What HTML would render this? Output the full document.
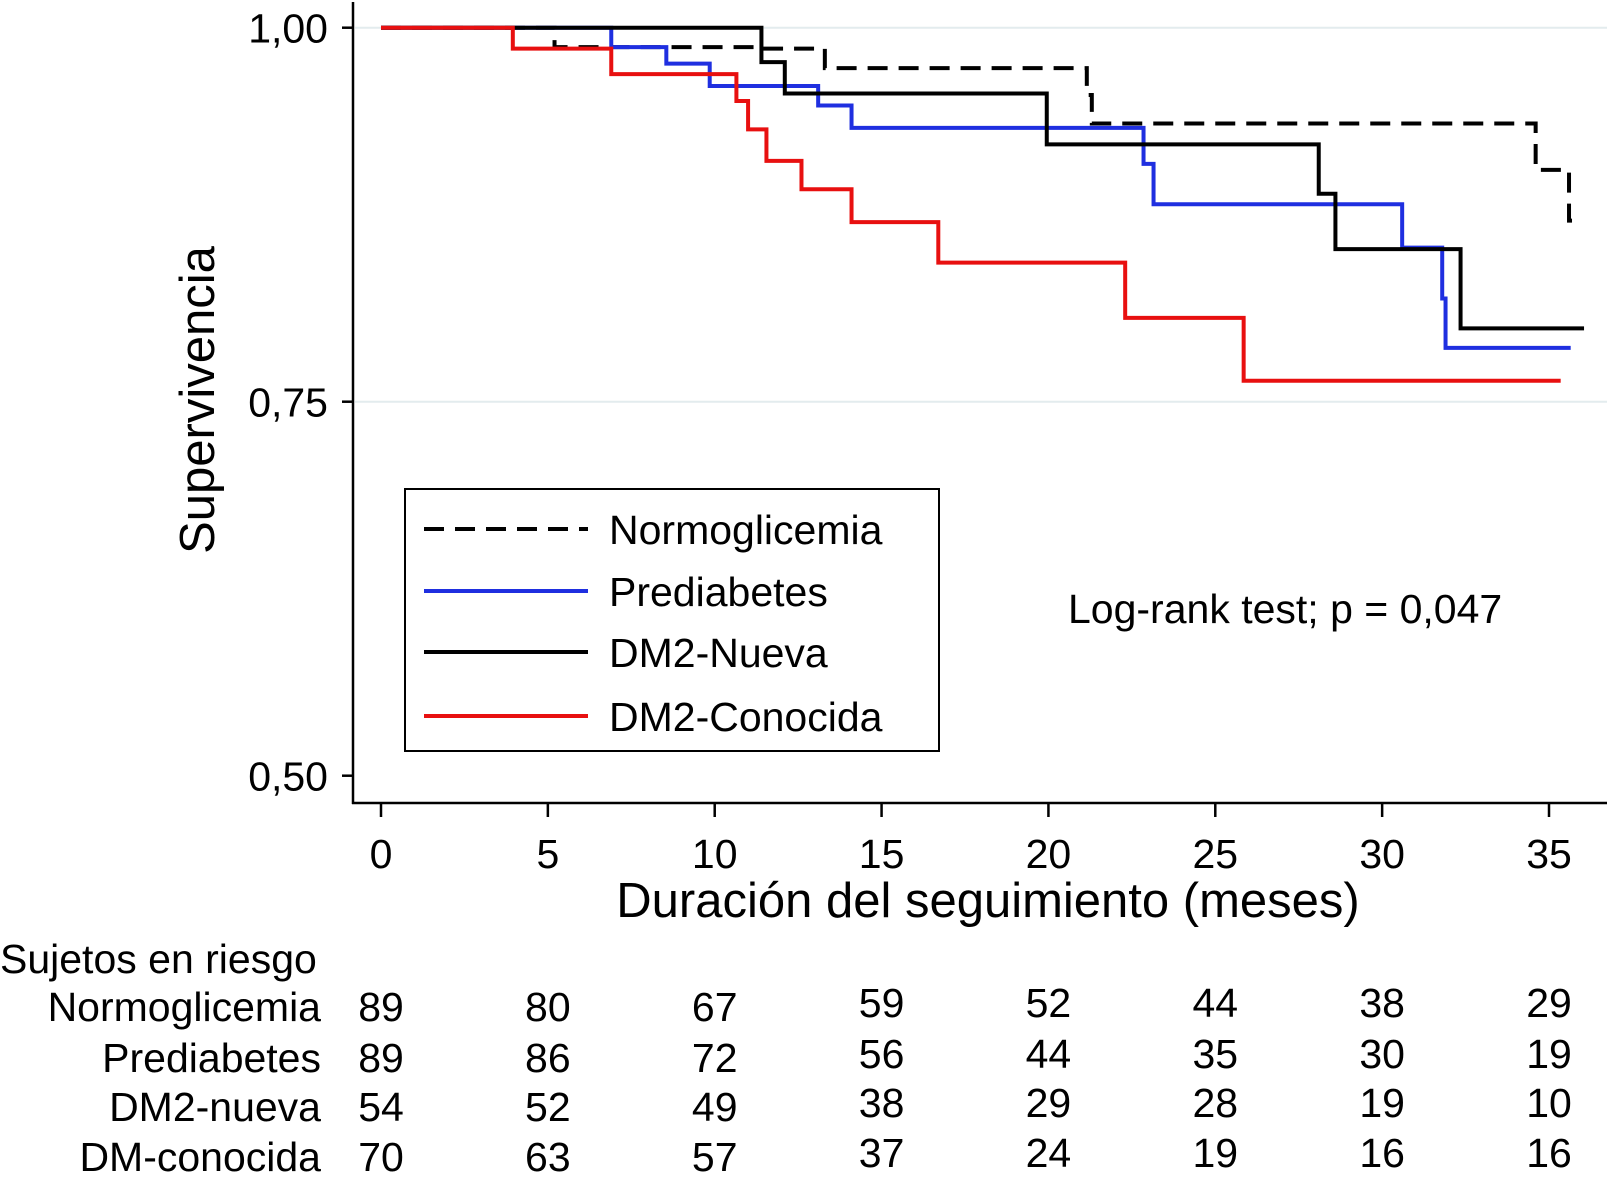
<!DOCTYPE html>
<html><head><meta charset="utf-8"><style>
html,body{margin:0;padding:0;background:#fff;}
svg{display:block;font-family:"Liberation Sans",Arial,sans-serif;}
</style></head><body>
<svg id="chart" width="1610" height="1190" viewBox="0 0 1610 1190" xmlns="http://www.w3.org/2000/svg">
<g id="grid"></g><g id="axes"></g><g id="series"></g><g id="legend"></g><g id="risk"></g>
</svg>
<script>
const xTicks = [0,5,10,15,20,25,30,35];
const yTicks = [1.00,0.75,0.50];
const yTickLabels = ["1,00","0,75","0,50"];
const seriesNames = ["Normoglicemia","Prediabetes","DM2-Nueva","DM2-Conocida"];
const seriesColors = ["#000","#1f2fe0","#000","#e81010"];
const normoT = [0,5.2,11.4,13.3,21.15,21.3,34.6,35.6,35.95];
const normoS = [1.0,0.987,0.986,0.973,0.955,0.936,0.905,0.871,0.871];
const prediT = [0,6.9,8.55,9.85,13.1,14.1,22.85,23.15,30.6,31.8,31.9,35.65];
const prediS = [1.0,0.987,0.976,0.961,0.948,0.933,0.909,0.882,0.853,0.819,0.786,0.786];
const nuevaT = [0,11.4,12.1,19.95,28.1,28.6,32.35,36.05];
const nuevaS = [1.0,0.977,0.956,0.922,0.889,0.852,0.799,0.799];
const conoT = [0,3.95,6.9,10.65,11.0,11.55,12.6,14.1,16.7,22.3,25.85,35.35];
const conoS = [1.0,0.986,0.969,0.951,0.932,0.911,0.892,0.870,0.843,0.806,0.764,0.764];
const riskRows = ["Normoglicemia","Prediabetes","DM2-nueva","DM-conocida"];
const riskNormo = [89,80,67,59,52,44,38,29];
const riskPredi = [89,86,72,56,44,35,30,19];
const riskNueva = [54,52,49,38,29,28,19,10];
const riskCono = [70,63,57,37,24,19,16,16];

const NS="http://www.w3.org/2000/svg";
const X0=381, PXM=(1549-381)/35;
const xs=t=>X0+t*PXM;
const ys=s=>27.7+(1-s)*(374/0.25);
function el(tag,attrs,parent,text){const e=document.createElementNS(NS,tag);for(const k in attrs)e.setAttribute(k,attrs[k]);if(text!==undefined)e.textContent=text;parent.appendChild(e);return e;}
const grid=document.getElementById('grid'),axes=document.getElementById('axes'),ser=document.getElementById('series'),leg=document.getElementById('legend'),risk=document.getElementById('risk');

yTicks.forEach((v,i)=>{
  if(v>0.5){const g=el('line',{x1:355,x2:1607,y1:ys(v),y2:ys(v),stroke:'#e3ecee','stroke-width':2},grid);
  
  }
  const t=el('line',{x1:342,x2:354,y1:ys(v),y2:ys(v),stroke:'#000','stroke-width':2.5},axes);
  
  
  const l=el('text',{x:328,y:ys(v)+15,'text-anchor':'end','font-size':41},axes,yTickLabels[i]);
  
  
});
const ya=el('line',{x1:353,x2:353,y1:2,y2:804,stroke:'#000','stroke-width':2.5},axes);


const xa=el('line',{x1:352,x2:1607,y1:803,y2:803,stroke:'#000','stroke-width':2.5},axes);


xTicks.forEach(v=>{
  const t=el('line',{x1:xs(v),x2:xs(v),y1:803,y2:817,stroke:'#000','stroke-width':2.5},axes);
  
  
  const l=el('text',{x:xs(v),y:868,'text-anchor':'middle','font-size':41},axes,String(v));
  
  
});
const yt=el('text',{x:0,y:0,'text-anchor':'middle','font-size':49,transform:'translate(214,400) rotate(-90)'},axes,'Supervivencia');


const xt=el('text',{x:988,y:917,'text-anchor':'middle','font-size':49},axes,'Duración del seguimiento (meses)');



function stepPath(T,S){let d=`M${xs(T[0])},${ys(S[0])}`;for(let i=1;i<T.length;i++){d+=` H${xs(T[i])} V${ys(S[i])}`;}return d;}
const allT=[normoT,prediT,nuevaT,conoT], allS=[normoS,prediS,nuevaS,conoS];
const names=['normoglicemia-curve','prediabetes-curve','dm2-nueva-curve','dm2-conocida-curve'];
[0,1,2,3].forEach(i=>{
  const p=el('path',{d:stepPath(allT[i],allS[i]),fill:'none',stroke:seriesColors[i],'stroke-width':4,'stroke-dasharray':i===0?'20,11':'none'},ser);
  
  
});

const box=el('rect',{x:405,y:489,width:534,height:262,fill:'#fff',stroke:'#000','stroke-width':2},leg);


const ly=[529,591,652,716];
seriesNames.forEach((n,i)=>{
  const ln=el('line',{x1:424,x2:588,y1:ly[i],y2:ly[i],stroke:seriesColors[i],'stroke-width':4,'stroke-dasharray':i===0?'20,11':'none'},leg);
  
  
  const tx=el('text',{x:609,y:ly[i]+15,'font-size':41},leg,n);
  
  
});
const lr=el('text',{x:1068,y:623,'font-size':41},leg,'Log-rank test; p = 0,047');



const rh=el('text',{x:0,y:973,'font-size':41},risk,'Sujetos en riesgo');


const ry=[1021,1072,1121,1171];
const riskVals=[riskNormo,riskPredi,riskNueva,riskCono];
riskRows.forEach((r,i)=>{
  const t=el('text',{x:321,y:ry[i],'text-anchor':'end','font-size':41},risk,r);
  
  
  riskVals[i].forEach((v,j)=>{
    const c=el('text',{x:xs(xTicks[j]),y:ry[i]-(j>=3?4:0),'text-anchor':'middle','font-size':41},risk,String(v));
    
    
  });
});
</script>
</body></html>
